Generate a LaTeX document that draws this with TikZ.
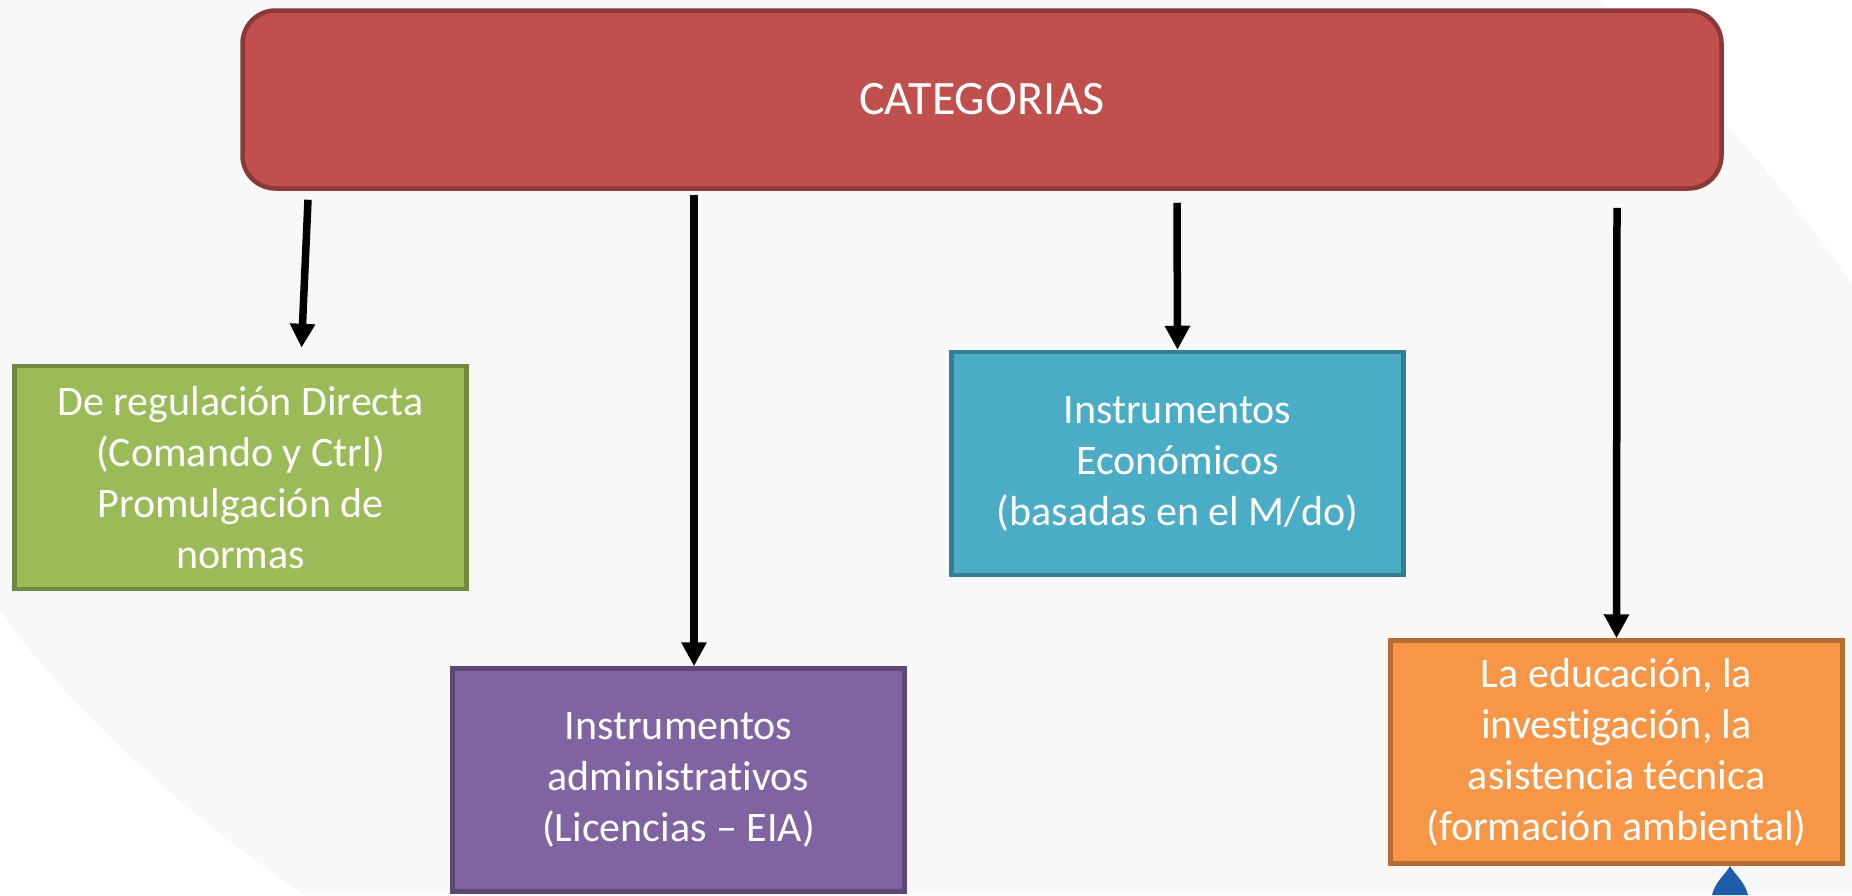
\documentclass[tikz,border=0pt]{standalone}
\usepackage{fontspec}
\setmainfont{Carlito}[Ligatures=NoCommon]
\usepackage{xcolor}
\usepackage{tikz}
\usetikzlibrary{arrows.meta, positioning}

\definecolor{redfill}{HTML}{C0504D}
\definecolor{reddraw}{HTML}{8C3836}
\definecolor{greenfill}{HTML}{9BBB59}
\definecolor{greendraw}{HTML}{71893F}
\definecolor{purplefill}{HTML}{8064A2}
\definecolor{purpledraw}{HTML}{5C4776}
\definecolor{tealfill}{HTML}{4BACC6}
\definecolor{tealdraw}{HTML}{357D91}
\definecolor{orangefill}{HTML}{F79646}
\definecolor{orangedraw}{HTML}{B66D31}
\definecolor{bggray}{HTML}{F8F8F8}
\definecolor{dropblue}{HTML}{1D5EAA}

\begin{document}
\begin{tikzpicture}[
        x=1pt, y=-1pt,
        title/.style={rectangle, rounded corners=33pt, draw=reddraw, fill=redfill, line width=4.5pt, minimum width=1479pt, minimum height=178pt, text=white, font=\fontsize{48}{57}\selectfont},
        category/.style={rectangle, line width=4.5pt, minimum width=452pt, minimum height=223pt, text width=440pt, align=flush center, text=white, font=\fontsize{42}{51}\selectfont},
        arrow/.style={-{Triangle[width=24pt, length=24pt]}, line width=7.5pt}
    ]
        % Background
        \useasboundingbox (0,0) rectangle (1852,895);
        \clip (0,0) rectangle (1852,895);
        \fill[bggray] (0,0) rectangle (1852,895);
        \fill[white] (1600,0) .. controls (1680,65) and (1790,190) .. (1852,285) -- (1852,0) -- cycle;
        \fill[white] (0,610) .. controls (60,700) and (190,820) .. (305,895) -- (0,895) -- cycle;
        \fill[dropblue] (1712,895) .. controls (1716,880) and (1726,874) .. (1730,866) .. controls (1734,874) and (1744,880) .. (1748,895) -- cycle;

        % Nodes
        \node[title] (cat) at (982,99.5) {CATEGORIAS};
        \node[category, draw=greendraw, fill=greenfill] (reg) at (240.5,477.5) {De regulación Directa\\(Comando y Ctrl)\\Promulgación de\\normas};
        \node[category, draw=purpledraw, fill=purplefill] (adm) at (678.5,780) {Instrumentos\\administrativos\\(Licencias – EIA)};
        \node[category, draw=tealdraw, fill=tealfill] (eco) at (1177.5,463.5) {Instrumentos\\Económicos\\(basadas en el M/do)};
        \node[category, draw=orangedraw, fill=orangefill] (edu) at (1616.5,752) {La educación, la\\investigación, la\\asistencia técnica\\(formación ambiental)};

        % Arrows
        \draw[arrow] ([xshift=-674pt, yshift=-9pt]cat.south) -- ([xshift=61pt, yshift=16pt]reg.north);
        \draw[arrow] ([xshift=-288pt, yshift=-4pt]cat.south) -- ([xshift=15.5pt]adm.north);
        \draw[arrow] ([xshift=195pt, yshift=-12pt]cat.south) -- (eco.north);
        \draw[arrow] ([xshift=635pt, yshift=-17pt]cat.south) -- (edu.north);
    \end{tikzpicture}
\end{document}
